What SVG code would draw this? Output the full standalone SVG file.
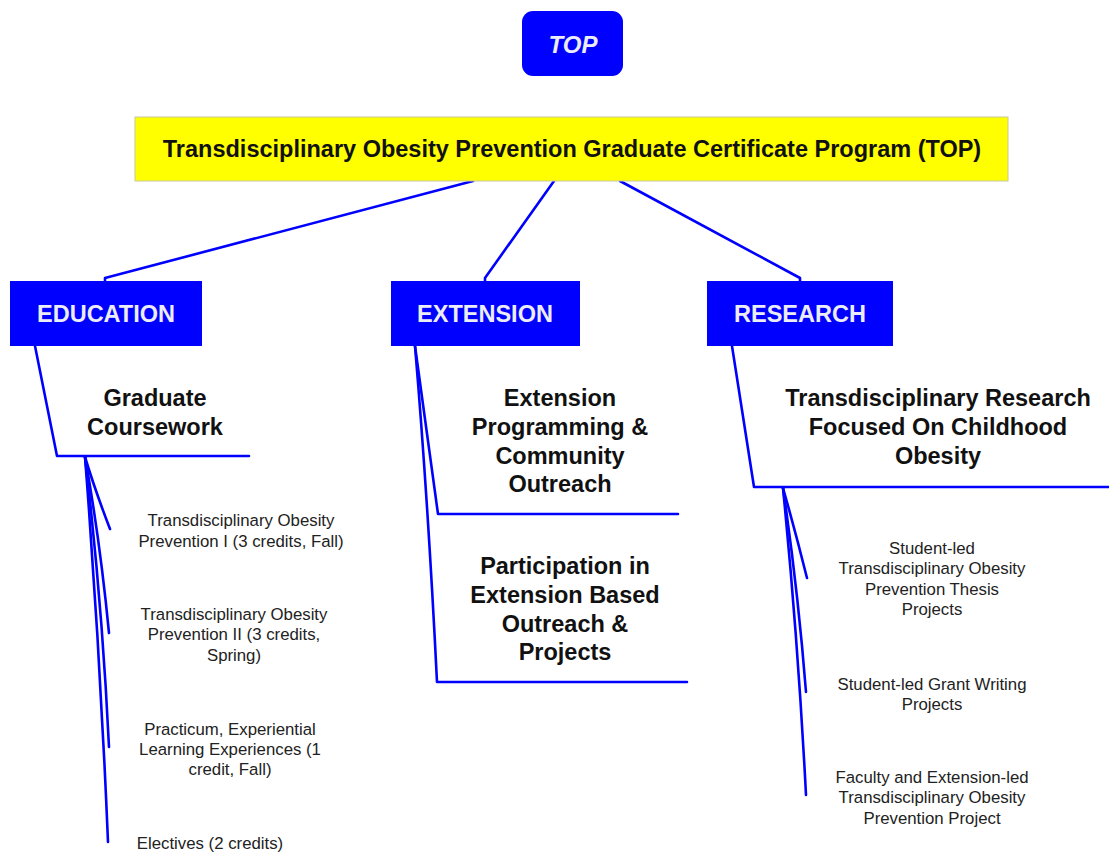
<svg xmlns="http://www.w3.org/2000/svg" width="1109" height="852" viewBox="0 0 1109 852">
<style>
.blue{fill:#0000FF;}
.hdr{font-family:"Liberation Sans",Arial,sans-serif;font-weight:bold;font-size:23.5px;fill:#ECECF8;text-anchor:middle;}
.big{font-family:"Liberation Sans",Arial,sans-serif;font-weight:bold;font-size:23.5px;fill:#111;text-anchor:middle;}
.small{font-family:"Liberation Sans",Arial,sans-serif;font-size:16.8px;fill:#222;text-anchor:middle;}
.conn{fill:none;stroke:#0000FF;stroke-width:2.6;stroke-linecap:round;stroke-linejoin:round;}
</style>
<rect width="1109" height="852" fill="#fff"/>
<g id="connectors">
<path class="conn" d="M473,181 L105,278 L105,281"/>
<path class="conn" d="M554,181 L485,278 L485,281"/>
<path class="conn" d="M620,181 L800,278 L800,281"/>
<path class="conn" d="M35,346 L57,456 L249,456"/>
<path class="conn" d="M85,457 Q95,490 110,529"/>
<path class="conn" d="M85,457 Q100,540 109,633"/>
<path class="conn" d="M85,457 Q102,600 109,747"/>
<path class="conn" d="M85,457 Q100,650 108,842"/>
<path class="conn" d="M415,346 L438,514 L678,514"/>
<path class="conn" d="M415,346 Q428,500 437,682 L687,682"/>
<path class="conn" d="M732,346 L754,487 L1109,487"/>
<path class="conn" d="M783,488 Q795,530 807,578"/>
<path class="conn" d="M783,488 Q798,590 806,692"/>
<path class="conn" d="M783,488 Q798,640 806,795"/>
</g>
<g id="top">
<rect x="522" y="11" width="101" height="65" rx="11" class="blue"/>
<text x="573" y="53" class="hdr" style="font-style:italic;font-size:24px">TOP</text>
</g>
<g id="program">
<rect x="135" y="117" width="873" height="64" fill="#FFFF00" stroke="#C8C8A0" stroke-width="1"/>
<text x="572" y="157" class="big">Transdisciplinary Obesity Prevention Graduate Certificate Program (TOP)</text>
</g>
<g id="education">
<rect x="10" y="281" width="192" height="65" class="blue"/>
<text x="106" y="322" class="hdr">EDUCATION</text>
</g>
<g id="extension">
<rect x="391" y="281" width="189" height="65" class="blue"/>
<text x="485" y="322" class="hdr">EXTENSION</text>
</g>
<g id="research">
<rect x="707" y="281" width="186" height="65" class="blue"/>
<text x="800" y="322" class="hdr">RESEARCH</text>
</g>
<g id="graduate-coursework">
<text class="big"><tspan x="155" y="406">Graduate</tspan><tspan x="155" y="435">Coursework</tspan></text>
</g>
<g id="extension-programming">
<text class="big"><tspan x="560" y="406">Extension</tspan><tspan x="560" y="435">Programming &amp;</tspan><tspan x="560" y="464">Community</tspan><tspan x="560" y="492">Outreach</tspan></text>
</g>
<g id="participation">
<text class="big"><tspan x="565" y="574">Participation in</tspan><tspan x="565" y="603">Extension Based</tspan><tspan x="565" y="632">Outreach &amp;</tspan><tspan x="565" y="660">Projects</tspan></text>
</g>
<g id="research-focus">
<text class="big"><tspan x="938" y="406">Transdisciplinary Research</tspan><tspan x="938" y="435">Focused On Childhood</tspan><tspan x="938" y="464">Obesity</tspan></text>
</g>
<g id="edu-1">
<text class="small"><tspan x="241" y="526">Transdisciplinary Obesity</tspan><tspan x="241" y="547">Prevention I (3 credits, Fall)</tspan></text>
</g>
<g id="edu-2">
<text class="small"><tspan x="234" y="620">Transdisciplinary Obesity</tspan><tspan x="234" y="640">Prevention II (3 credits,</tspan><tspan x="234" y="661">Spring)</tspan></text>
</g>
<g id="edu-3">
<text class="small"><tspan x="230" y="735">Practicum, Experiential</tspan><tspan x="230" y="755">Learning Experiences (1</tspan><tspan x="230" y="775">credit, Fall)</tspan></text>
</g>
<g id="edu-4">
<text class="small"><tspan x="210" y="849">Electives (2 credits)</tspan></text>
</g>
<g id="res-1">
<text class="small"><tspan x="932" y="554">Student-led</tspan><tspan x="932" y="574">Transdisciplinary Obesity</tspan><tspan x="932" y="595">Prevention Thesis</tspan><tspan x="932" y="615">Projects</tspan></text>
</g>
<g id="res-2">
<text class="small"><tspan x="932" y="690">Student-led Grant Writing</tspan><tspan x="932" y="710">Projects</tspan></text>
</g>
<g id="res-3">
<text class="small"><tspan x="932" y="783">Faculty and Extension-led</tspan><tspan x="932" y="803">Transdisciplinary Obesity</tspan><tspan x="932" y="824">Prevention Project</tspan></text>
</g>
</svg>
